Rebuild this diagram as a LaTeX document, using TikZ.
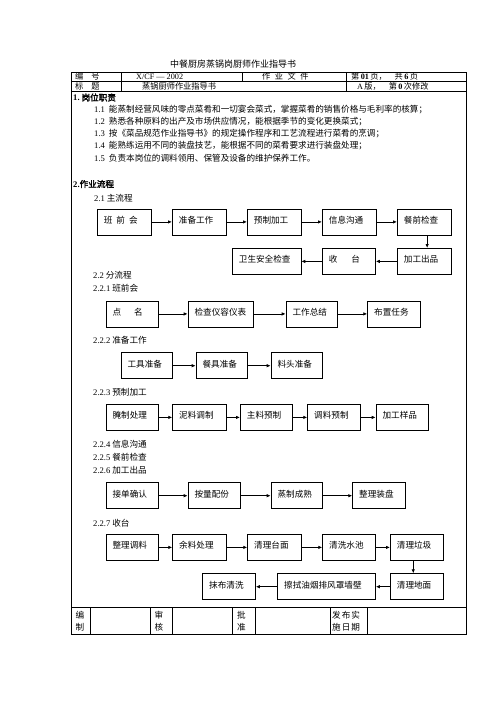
\documentclass[tikz,border=0pt]{standalone}
\usepackage{fontspec}
\setmainfont{Noto Sans CJK SC}[AutoFakeBold=2]
\newfontfamily\lat{Liberation Serif}
\usetikzlibrary{arrows.meta}
\tikzset{
  box/.style={draw,line width=.8pt,anchor=north west,inner xsep=6.5pt,inner ysep=0pt,
    minimum height=26pt,text height=7pt,text depth=4pt,align=left,text width=#1},
  flow/.style={line width=.8pt,-{Latex[length=4pt,width=3.5pt]}},
  txt/.style={anchor=west,inner sep=0pt},
  rule/.style={line width=.6pt},
}

\begin{document}
\begin{tikzpicture}[x=1pt,y=-1pt,font=\fontsize{8.6}{10}\selectfont]
  \fill[white] (0,0) rectangle (496,702);
  \useasboundingbox (0,0) rectangle (496,702);

  \node[txt,font=\fontsize{9}{10}\selectfont] (title) at (170,64) {中餐厨房蒸锅岗厨师作业指导书};

  \draw[rule] (71,72) rectangle (466,634);
  \draw[rule] (71,81.5) -- (466,81.5);
  \draw[rule] (71,91) -- (466,91);
  \draw[rule] (121,72) -- (121,91);
  \draw[rule] (242,72) -- (242,81.5);
  \draw[rule] (346,72) -- (346,91);
  \draw[rule] (71,607.5) -- (466,607.5);
  \foreach \xx in {90.7,150.7,172.7,232.3,255.7,330.7,367.3}
    \draw[rule] (\xx,607.5) -- (\xx,634);

  \begin{scope}[font=\fontsize{8.2}{9}\selectfont]
    \node[txt] (hnum) at (75,76.8) {编\hspace{8pt}号};
    \node[txt] (hcode) at (136,76.8) {\lat X/CF — 2002};
    \node[txt] (hkind) at (262,76.8) {作\hspace{4.5pt}业\hspace{4.5pt}文\hspace{4.5pt}件};
    \node[txt] (hpage) at (351,76.8) {第\,{\lat\bfseries 01}\,页，\hspace{8pt}共\,{\lat\bfseries 6}\,页};
    \node[txt] (htit) at (75,86.3) {标\hspace{8pt}题};
    \node[txt] (hname) at (142,86.3) {蒸锅厨师作业指导书};
    \node[txt] (hver) at (357,86.3) {{\lat A}\,版，\hspace{8pt}第\,{\lat\bfseries 0}\,次修改};
  \end{scope}

  \node[txt] (sec1) at (73,97.5) {\textbf{{\lat 1.}\ 岗位职责}};
  \node[txt] (d1) at (94,110) {{\lat 1.1}\hspace{4pt}能蒸制经营风味的零点菜肴和一切宴会菜式，掌握菜肴的销售价格与毛利率的核算；};
  \node[txt] (d2) at (94,122) {{\lat 1.2}\hspace{4pt}熟悉各种原料的出产及市场供应情况，能根据季节的变化更换菜式；};
  \node[txt] (d3) at (94,134) {{\lat 1.3}\hspace{4pt}按《菜品规范作业指导书》的规定操作程序和工艺流程进行菜肴的烹调；};
  \node[txt] (d4) at (94,146) {{\lat 1.4}\hspace{4pt}能熟练运用不同的装盘技艺，能根据不同的菜肴要求进行装盘处理；};
  \node[txt] (d5) at (94,158) {{\lat 1.5}\hspace{4pt}负责本岗位的调料领用、保管及设备的维护保养工作。};

  \node[txt] (sec2) at (73,184) {\textbf{{\lat 2.}作业流程}};
  \node[txt] (s21) at (94,198) {{\lat 2.1} 主流程};

  \node[box=40.5pt] (m1) at (97,208.5) {班\hspace{4pt}前\hspace{4pt}会};
  \node[box=40.5pt] (m2) at (172,208.5) {准备工作};
  \node[box=40.5pt] (m3) at (247,208.5) {预制加工};
  \node[box=40.5pt] (m4) at (322,208.5) {信息沟通};
  \node[box=40.5pt] (m5) at (397,208.5) {餐前检查};
  \node[box=40.5pt] (m6) at (397,248) {加工出品};
  \node[box=40pt] (m7) at (322,248) {收\hspace{14pt}台};
  \node[box=55.5pt] (m8) at (232,248) {卫生安全检查};
  \draw[flow] (m1.east) -- (m2.west);
  \draw[flow] (m2.east) -- (m3.west);
  \draw[flow] (m3.east) -- (m4.west);
  \draw[flow] (m4.east) -- (m5.west);
  \draw[flow] ([xshift=3pt]m5.south) -- ([xshift=3pt]m6.north);
  \draw[flow] (m6.west) -- (m7.east);
  \draw[flow] (m7.west) -- (m8.east);

  \node[txt] (s22) at (93,275.5) {{\lat 2.2} 分流程};
  \node[txt] (s221) at (93,288) {{\lat 2.2.1} 班前会};
  \node[box=39pt] (a1) at (105.7,300.5) {点\hspace{13pt}名};
  \node[box=52pt] (a2) at (187.7,300.5) {检查仪容仪表};
  \node[box=38pt] (a3) at (285.7,300.5) {工作总结};
  \node[box=39.7pt] (a4) at (367.3,300.5) {布置任务};
  \draw[flow] (a1.east) -- (a2.west);
  \draw[flow] (a2.east) -- (a3.west);
  \draw[flow] (a3.east) -- (a4.west);

  \node[txt] (s222) at (93,340.7) {{\lat 2.2.2} 准备工作};
  \node[box=38pt] (b1) at (120.7,352.3) {工具准备};
  \node[box=38pt] (b2) at (195.7,352.3) {餐具准备};
  \node[box=38.6pt] (b3) at (270.7,352.3) {料头准备};
  \draw[flow] (b1.east) -- (b2.west);
  \draw[flow] (b2.east) -- (b3.west);

  \node[txt] (s223) at (93,392.7) {{\lat 2.2.3} 预制加工};
  \node[box=39pt] (c1) at (105.7,404) {腌制处理};
  \node[box=40.4pt] (c2) at (172.3,404) {泥料调制};
  \node[box=39.3pt] (c3) at (240,404) {主料预制};
  \node[box=39.7pt] (c4) at (307.3,404) {调料预制};
  \node[box=39pt] (c5) at (375.7,404) {加工样品};
  \draw[flow] (c1.east) -- (c2.west);
  \draw[flow] (c2.east) -- (c3.west);
  \draw[flow] (c3.east) -- (c4.west);
  \draw[flow] (c4.east) -- (c5.west);

  \node[txt] (s224) at (93,444) {{\lat 2.2.4} 信息沟通};
  \node[txt] (s225) at (93,457) {{\lat 2.2.5} 餐前检查};
  \node[txt] (s226) at (93,470) {{\lat 2.2.6} 加工出品};
  \node[box=39pt] (e1) at (105.7,482.3) {接单确认};
  \node[box=39.3pt] (e2) at (187.7,482.3) {按量配份};
  \node[box=38.6pt] (e3) at (270.7,482.3) {蒸制成熟};
  \node[box=39.7pt] (e4) at (352.3,482.3) {整理装盘};
  \draw[flow] (e1.east) -- (e2.west);
  \draw[flow] (e2.east) -- (e3.west);
  \draw[flow] (e3.east) -- (e4.west);

  \node[txt] (s227) at (93,523.3) {{\lat 2.2.7} 收台};
  \node[box=39pt] (f1) at (105.7,534) {整理调料};
  \node[box=40.4pt] (f2) at (172.3,534) {余料处理};
  \node[box=40.4pt] (f3) at (247.3,534) {清理台面};
  \node[box=39.7pt] (f4) at (322.3,534) {清洗水池};
  \node[box=39.7pt] (f5) at (390,534) {清理垃圾};
  \node[box=39.7pt] (f6) at (390,573.3) {清理地面};
  \node[box=84.7pt] (f7) at (277.3,573.3) {擦拭油烟排风罩墙壁};
  \node[box=39.7pt] (f8) at (202.3,573.3) {抹布清洗};
  \draw[flow] (f1.east) -- (f2.west);
  \draw[flow] (f2.east) -- (f3.west);
  \draw[flow] (f3.east) -- (f4.west);
  \draw[flow] (f4.east) -- (f5.west);
  \draw[flow] ([xshift=-3.5pt]f5.south) -- ([xshift=-3.5pt]f6.north);
  \draw[flow] (f6.west) -- (f7.east);
  \draw[flow] (f7.west) -- (f8.east);

  \node[txt] (g1) at (75.5,615) {编};
  \node[txt] (g2) at (75.5,627.3) {制};
  \node[txt] (g3) at (154.5,615) {审};
  \node[txt] (g4) at (154.5,627.3) {核};
  \node[txt] (g5) at (237,615) {批};
  \node[txt] (g6) at (237,627.3) {准};
  \node[txt] (g7) at (332,615) {发\hspace{1pt}布\hspace{1pt}实};
  \node[txt] (g8) at (332,627.3) {施\hspace{1pt}日\hspace{1pt}期};
\end{tikzpicture}
\end{document}
